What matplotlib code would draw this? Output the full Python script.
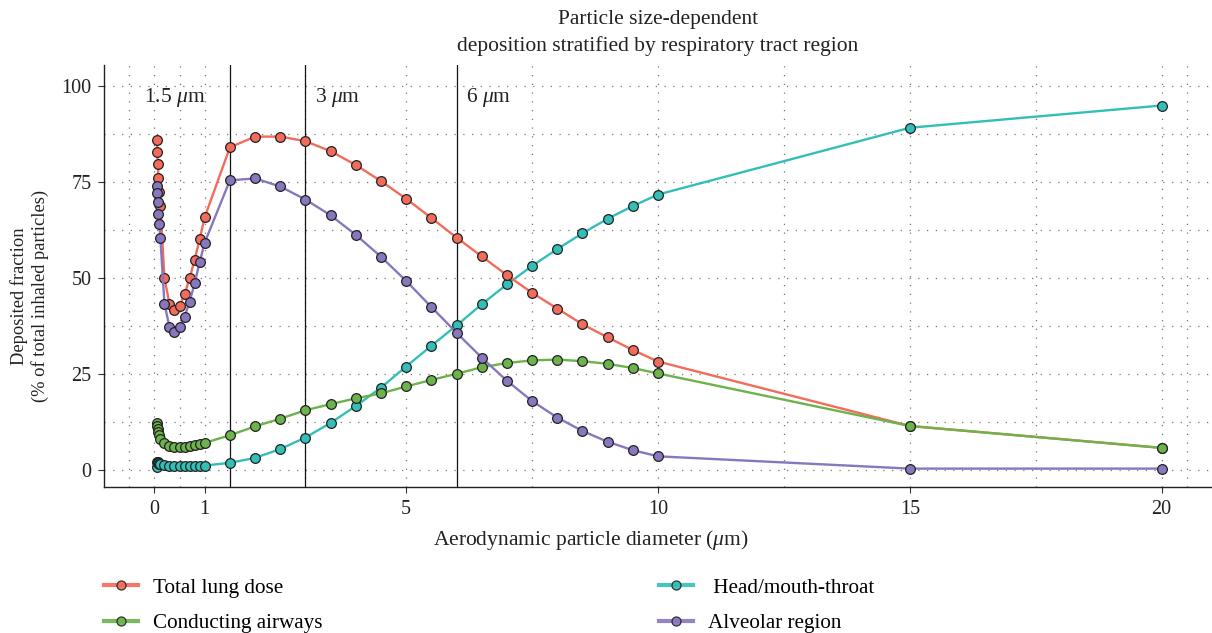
import matplotlib
matplotlib.use("Agg")
import matplotlib.pyplot as plt
from matplotlib.lines import Line2D

plt.rcParams['font.family'] = ['Liberation Serif', 'DejaVu Serif']
plt.rcParams['mathtext.fontset'] = 'custom'
plt.rcParams['mathtext.rm'] = 'Liberation Serif'
plt.rcParams['mathtext.it'] = 'Liberation Serif:italic'

# aerodynamic diameter (um)
diam = [0.05, 0.06, 0.07, 0.08, 0.1, 0.12,
        0.2, 0.3, 0.4, 0.5, 0.6, 0.7, 0.8, 0.9, 1.0,
        1.5, 2, 2.5, 3, 3.5, 4, 4.5, 5, 5.5, 6, 6.5, 7, 7.5, 8, 8.5, 9, 9.5, 10,
        15, 20]

total_lung = [86.0, 82.9, 79.6, 75.9, 72.4, 68.8,
              50.0, 43.2, 41.5, 42.7, 45.7, 49.9, 54.7, 60.1, 65.8,
              84.0, 86.8, 86.8, 85.6, 83.0, 79.4, 75.2, 70.6, 65.6, 60.5, 55.6, 50.7,
              46.1, 42.0, 37.9, 34.5, 31.2, 28.2,
              11.4, 5.7]

conducting = [12.3, 11.5, 10.7, 9.9, 9.0, 8.1,
              7.0, 6.2, 5.9, 5.9, 6.0, 6.2, 6.5, 6.8, 7.0,
              9.0, 11.3, 13.3, 15.5, 17.1, 18.6, 19.9, 21.7, 23.4, 25.0, 26.7, 27.8,
              28.5, 28.7, 28.3, 27.6, 26.5, 25.1,
              11.4, 5.7]

head = [0.6, 2.1, 1.9, 1.7, 1.5, 1.4,
        1.3, 1.1, 1.0, 1.0, 0.9, 0.9, 0.9, 1.0, 1.1,
        1.8, 3.1, 5.4, 8.4, 12.2, 16.6, 21.4, 26.9, 32.3, 37.6, 43.1, 48.3,
        53.1, 57.5, 61.6, 65.4, 68.7, 71.7,
        89.1, 94.9]

alveolar = [73.9, 72.2, 69.7, 66.7, 63.9, 60.3,
            43.3, 37.2, 35.8, 37.1, 39.9, 43.8, 48.6, 54.1, 59.2,
            75.4, 75.9, 73.8, 70.4, 66.3, 61.2, 55.5, 49.2, 42.4, 35.7, 29.2, 23.2,
            17.9, 13.6, 10.1, 7.3, 5.1, 3.5,
            0.3, 0.3]

cut_sizes = [1.5, 3, 6]
cut_labels = ['1.5 $\\mu$m', '3 $\\mu$m', '6 $\\mu$m']

x_major = [0, 1, 5, 10, 15, 20]
x_minor = [-0.5, 0.5, 3, 7.5, 12.5, 17.5, 20.5]
y_major = [0, 25, 50, 75, 100]
y_minor = [12.5, 37.5, 62.5, 87.5]

c_red = '#F26B5B'
c_green = '#6BB34A'
c_cyan = '#33BFB8'
c_purple = '#8877BE'

fs = 14.5
ink = '#222222'

fig = plt.figure(figsize=(12.12, 6.33), dpi=100)
ax = fig.add_axes([0.0858, 0.2306, 0.9142, 0.667])

mk = dict(marker='o', markersize=7, markeredgecolor=ink, markeredgewidth=0.9, linewidth=1.7)
ax.plot(diam, head, color=c_cyan, markerfacecolor=c_cyan, **mk)
ax.plot(diam, total_lung, color=c_red, markerfacecolor=c_red, **mk)
ax.plot(diam, conducting, color=c_green, markerfacecolor=c_green, **mk)
ax.plot(diam, alveolar, color=c_purple, markerfacecolor=c_purple, **mk)

for xc in cut_sizes:
    ax.axvline(xc, color='#111111', linewidth=0.9, zorder=1)
ax.text(-0.2, 97, cut_labels[0], fontsize=15.5, ha='left', va='center', color=ink)
ax.text(3.18, 97, cut_labels[1], fontsize=15.5, ha='left', va='center', color=ink)
ax.text(6.18, 97, cut_labels[2], fontsize=15.5, ha='left', va='center', color=ink)

ax.set_xlim(-1, 21)
ax.set_ylim(-4.5, 105.5)
ax.set_xticks(x_major)
ax.set_xticks(x_minor, minor=True)
ax.set_yticks(y_major)
ax.set_yticks(y_minor, minor=True)
ax.tick_params(which='minor', length=0)
ax.tick_params(which='major', length=4, width=0.8, color='#333333', labelsize=fs,
               labelcolor=ink, pad=5)
ax.grid(which='both', linestyle=(0, (1, 6)), color='#777777', linewidth=0.9)
ax.set_axisbelow(True)
for s in ['top', 'right']:
    ax.spines[s].set_visible(False)
for s in ['left', 'bottom']:
    ax.spines[s].set_color(ink)
    ax.spines[s].set_linewidth(1.0)

ax.set_xlabel('Aerodynamic particle diameter ($\\mu$m)', fontsize=15.5, color=ink, labelpad=7)
ax.xaxis.label.set_x(0.4395)
ax.set_ylabel('Deposited fraction\n(% of total inhaled particles)', fontsize=13.3, color=ink,
              labelpad=9, linespacing=1.22)
ax.yaxis.label.set_y(0.4526)
ax.set_title('Particle size-dependent\ndeposition stratified by respiratory tract region',
             fontsize=15.5, color=ink, linespacing=1.45, pad=10)


def handle(c):
    return Line2D([], [], color=c, linewidth=3, alpha=0.9, marker='o', markersize=6.5,
                  markerfacecolor=c, markeredgecolor=ink, markeredgewidth=0.9)


leg_kw = dict(frameon=False, fontsize=15.2, handlelength=1.6, handletextpad=0.7,
              labelspacing=0.75, borderaxespad=0, borderpad=0)
fig.legend([handle(c_red), handle(c_green)], ['Total lung dose', 'Conducting airways'],
           loc='upper left', bbox_to_anchor=(104 / 1212, 1 - 578 / 633), **leg_kw)
fig.legend([handle(c_cyan), handle(c_purple)], [' Head/mouth-throat', 'Alveolar region'],
           loc='upper left', bbox_to_anchor=(659 / 1212, 1 - 578 / 633), **leg_kw)

fig.savefig('out.png', dpi=100)
